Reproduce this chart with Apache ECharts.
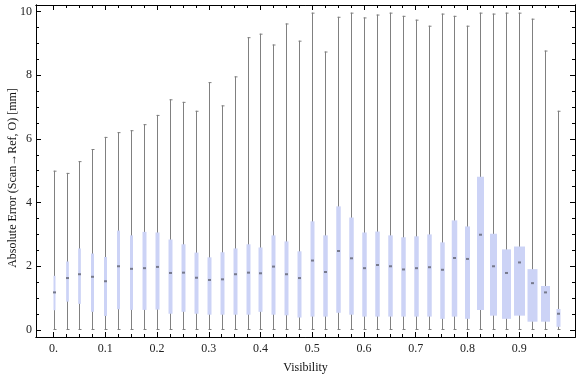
<!DOCTYPE html>
<html>
<head>
<meta charset="utf-8">
<script src="https://cdn.jsdelivr.net/npm/echarts@6/dist/echarts.min.js"></script>
<style>
  html, body { margin: 0; padding: 0; background: #fff; }
  #chart { width: 576px; height: 377px; }
</style>
</head>
<body>
<div id="chart"></div>
<script>
// visibility bins (box positions)
var visibility = [0, 0.025, 0.05, 0.075, 0.1, 0.125, 0.15, 0.175, 0.2, 0.225,
  0.25, 0.275, 0.3, 0.325, 0.35, 0.375, 0.4, 0.425, 0.45, 0.475,
  0.5, 0.525, 0.55, 0.575, 0.6, 0.625, 0.65, 0.675, 0.7, 0.725,
  0.75, 0.775, 0.8, 0.825, 0.85, 0.875, 0.9, 0.925, 0.95, 0.975];

var whiskerMin = [0, 0, 0, 0, 0, 0, 0, 0, 0, 0,
  0, 0, 0, 0, 0, 0, 0, 0, 0, 0,
  0, 0, 0, 0, 0, 0, 0, 0, 0, 0,
  0, 0, 0, 0, 0, 0, 0, 0, 0, 0];
var q1 = [0.62, 0.89, 0.82, 0.57, 0.44, 0.65, 0.63, 0.63, 0.64, 0.51,
  0.57, 0.51, 0.48, 0.48, 0.48, 0.48, 0.57, 0.48, 0.46, 0.39,
  0.42, 0.42, 0.54, 0.48, 0.42, 0.42, 0.42, 0.42, 0.42, 0.42,
  0.35, 0.42, 0.35, 0.63, 0.45, 0.35, 0.45, 0.26, 0.26, 0.10];
var median = [1.18, 1.63, 1.75, 1.67, 1.53, 2.00, 1.92, 1.94, 1.98, 1.79,
  1.80, 1.64, 1.57, 1.59, 1.75, 1.80, 1.78, 1.99, 1.75, 1.63,
  2.18, 1.82, 2.48, 2.25, 1.94, 2.04, 2.00, 1.90, 1.94, 1.97,
  1.89, 2.26, 2.23, 2.99, 2.00, 1.79, 2.12, 1.47, 1.18, 0.51];
var q3 = [1.70, 2.15, 2.56, 2.40, 2.29, 3.12, 2.97, 3.08, 3.06, 2.84,
  2.69, 2.43, 2.28, 2.44, 2.56, 2.69, 2.59, 2.97, 2.78, 2.47,
  3.41, 2.97, 3.88, 3.53, 3.06, 3.09, 2.97, 2.91, 2.94, 3.00,
  2.75, 3.44, 3.25, 4.81, 3.02, 2.53, 2.62, 1.91, 1.38, 0.66];
var whiskerMax = [5.00, 4.93, 5.30, 5.68, 6.06, 6.21, 6.27, 6.46, 6.75, 7.24,
  7.16, 6.88, 7.78, 7.05, 7.96, 9.19, 9.30, 8.96, 9.62, 9.08,
  9.96, 8.74, 9.83, 9.96, 9.81, 9.90, 9.96, 9.86, 9.74, 9.55,
  9.93, 9.86, 9.55, 9.96, 9.93, 9.96, 9.96, 9.77, 8.77, 6.88];
// relative sample count per bin (drives box width)
var relCount = [2, 2.7, 2.7, 3, 3, 3, 3, 4, 4, 4,
  4, 4, 4, 4, 4, 4, 4, 4, 4, 4,
  4, 4.5, 4.5, 4.5, 4.5, 4.5, 4.5, 4.5, 4.5, 4.5,
  4.5, 5.5, 5, 7, 7, 9, 11, 10, 9, 4];

var xLabels = [0, 0.1, 0.2, 0.3, 0.4, 0.5, 0.6, 0.7, 0.8, 0.9];
var yLabels = [0, 2, 4, 6, 8, 10];
var yMinor = [];
for (var v = 0; v <= 10; v += 0.5) yMinor.push(v);

var data = visibility.map(function (x, i) {
  return [x, whiskerMin[i], q1[i], median[i], q3[i], whiskerMax[i], relCount[i]];
});

var font = "'Liberation Serif', 'DejaVu Serif', serif";
var gridRect = { left: 36, right: 1, top: 5, bottom: 40, containLabel: false, outerBoundsMode: "none" };
var xRange = { min: -0.034, max: 1.008 };
var yRange = { min: -0.22, max: 10.2 };

function xAxisDef(gridIndex, pos, showLabel, ticks, len) {
  return {
    type: "value", gridIndex: gridIndex, position: pos,
    min: xRange.min, max: xRange.max,
    name: showLabel ? "Visibility" : "",
    nameLocation: "middle", nameGap: 25, nameMoveOverlap: false,
    nameTextStyle: { fontFamily: font, fontSize: 12, color: "#111" },
    axisLine: { show: true, onZero: false, lineStyle: { color: "#000", width: 1 } },
    axisTick: { show: true, inside: true, length: len, customValues: ticks,
      lineStyle: { color: "#000", width: 1 } },
    axisLabel: { show: showLabel, customValues: xLabels, margin: 6,
      fontFamily: font, fontSize: 12, color: "#222",
      formatter: function (v) { return v === 0 ? "0." : String(+v.toFixed(1)); } },
    splitLine: { show: false }
  };
}
function yAxisDef(gridIndex, pos, showLabel, ticks, len) {
  return {
    type: "value", gridIndex: gridIndex, position: pos,
    min: yRange.min, max: yRange.max,
    name: showLabel ? "Absolute Error (Scan\u2192Ref, O) [mm]" : "",
    nameLocation: "middle", nameGap: 17, nameMoveOverlap: false,
    nameTextStyle: { fontFamily: font, fontSize: 12, color: "#111", padding: [0, 14, 0, 0] },
    axisLine: { show: true, onZero: false, lineStyle: { color: "#000", width: 1 } },
    axisTick: { show: true, inside: true, length: len, customValues: ticks,
      lineStyle: { color: "#000", width: 1 } },
    axisLabel: { show: showLabel, customValues: yLabels, margin: 4,
      fontFamily: font, fontSize: 12, color: "#222" },
    splitLine: { show: false }
  };
}

var myChart = echarts.init(document.getElementById("chart"), null, { renderer: "canvas" });
var option = {
  animation: false,
  backgroundColor: "#fff",
  grid: [
    Object.assign({}, gridRect),
    Object.assign({}, gridRect)
  ],
  xAxis: [
    xAxisDef(0, "bottom", true, visibility, 3),
    xAxisDef(0, "top", false, visibility, 3),
    xAxisDef(1, "bottom", false, xLabels, 5),
    xAxisDef(1, "top", false, xLabels, 5)
  ],
  yAxis: [
    yAxisDef(0, "left", true, yLabels, 5),
    yAxisDef(0, "right", false, yLabels, 5),
    yAxisDef(1, "left", false, yMinor, 3),
    yAxisDef(1, "right", false, yMinor, 3)
  ],
  series: [
    {
      type: "custom",
      xAxisIndex: 0,
      yAxisIndex: 0,
      data: data,
      renderItem: function (params, api) {
        var x = api.value(0);
        var w = api.value(6);
        var pMin = api.coord([x, api.value(1)]);
        var pQ1 = api.coord([x, api.value(2)]);
        var pMed = api.coord([x, api.value(3)]);
        var pQ3 = api.coord([x, api.value(4)]);
        var pMax = api.coord([x, api.value(5)]);
        var cx = Math.round(pMax[0]) + 0.5;
        var grey = "#808080";
        return {
          type: "group",
          children: [
            { type: "line", shape: { x1: cx, y1: pMin[1], x2: cx, y2: pMax[1] },
              style: { stroke: grey, lineWidth: 1 } },
            { type: "line", shape: { x1: cx - 1, y1: pMax[1] + 0.5, x2: cx + 2, y2: pMax[1] + 0.5 },
              style: { stroke: grey, lineWidth: 1 } },
            { type: "line", shape: { x1: cx - 1, y1: pMin[1] - 0.5, x2: cx + 2, y2: pMin[1] - 0.5 },
              style: { stroke: grey, lineWidth: 1 } },
            { type: "rect", shape: { x: cx - w / 2, y: pQ3[1], width: w, height: pQ1[1] - pQ3[1] },
              style: { fill: "#ccd3f6" } },
            { type: "rect", shape: { x: cx - 1.5, y: pMed[1] - 1, width: 3, height: 2 },
              style: { fill: "#777a8c" } }
          ]
        };
      }
    }
  ]
};
myChart.setOption(option);
</script>
</body>
</html>
